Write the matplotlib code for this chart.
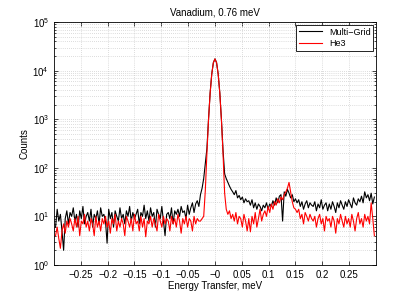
#!/usr/bin/env python3
"""Vanadium elastic line, 0.76 meV: Multi-Grid vs He3 detector counts."""

import numpy as np
import matplotlib
matplotlib.use('Agg')
import matplotlib.pyplot as plt
from matplotlib.ticker import FuncFormatter, LogLocator, LogFormatterMathtext

# energy bins (meV), 0.003 meV apart
energy = np.round(np.linspace(-0.297, 0.297, 199), 3)

# counts, 10 bins per row
multigrid = [
    6, 14, 8, 11, 5, 2, 9, 13, 7, 12,
    10, 15, 8, 11, 6, 13, 9, 16, 7, 10,
    12, 8, 14, 6, 11, 9, 13, 7, 15, 10,
    11, 8, 2.8, 14, 9, 12, 6, 13, 10, 8,
    15, 9, 11, 7, 13, 10, 16, 8, 12, 9,
    11, 14, 7, 12, 10, 17, 9, 13, 8, 15,
    10, 12, 6, 14, 11, 9, 16, 8, 4, 11,
    12, 9, 15, 7, 13, 11, 14, 10, 16, 12,
    13, 9, 17, 11, 15, 19, 12, 18, 21, 16,
    28, 38, 60, 120, 250, 1000, 3500, 8500, 14600, 17500,
    14600, 8500, 3500, 1000, 230, 75, 60, 50, 42, 36,
    32, 28, 34, 24, 27, 22, 25, 19, 23, 20,
    21, 17, 22, 15, 19, 14, 18, 16, 13, 17,
    15, 19, 14, 18, 16, 21, 17, 24, 19, 26,
    28, 8, 32, 26, 36, 30, 24, 28, 20, 23,
    19, 22, 16, 20, 14, 18, 21, 15, 19, 17,
    16, 20, 13, 18, 15, 22, 14, 17, 19, 13,
    18, 14, 20, 16, 12, 19, 15, 21, 17, 14,
    20, 16, 22, 18, 15, 24, 19, 17, 23, 20,
    26, 19, 32, 24, 28, 21, 30, 18, 25,
]

he3 = [
    4, 6, 3.5, 2.2, 5, 7, 4.5, 8, 6, 9,
    7, 5, 9, 6, 10, 4, 8, 7, 11, 6,
    8, 5, 9, 7, 4, 10, 6, 8, 5, 9,
    7, 10, 6, 8, 4.5, 9, 7, 11, 5, 8,
    6, 9, 7, 4, 10, 8, 6, 9, 5, 11,
    7, 8, 5, 10, 6, 9, 3.8, 8, 7, 10,
    6, 9, 7, 5, 11, 8, 6, 10, 7, 9,
    8, 5, 10, 7, 9, 6, 11, 8, 4.5, 9,
    7, 10, 6, 9, 8, 5, 10, 7, 9, 8,
    8, 9, 10, 34, 200, 980, 3460, 8500, 14600, 17500,
    14600, 8500, 3460, 980, 200, 30, 14, 11, 13, 9,
    11, 8, 12, 7, 10, 9, 6, 11, 8, 5,
    9, 4.8, 10, 7, 12, 6, 9, 14, 8, 11,
    13, 10, 16, 12, 18, 14, 20, 17, 23, 19,
    25, 22, 28, 32, 38, 50, 32, 20, 15, 14,
    12, 14, 9, 11, 7, 12, 10, 8, 11, 9,
    8, 10, 6, 9, 11, 7, 9, 5, 10, 8,
    9, 6, 10, 8, 4.5, 9, 7, 11, 8, 6,
    10, 7, 9, 6, 11, 8, 5, 9, 12, 7,
    9, 6, 11, 8, 10, 7, 19, 9, 4,
]

plt.rcParams['font.family'] = ['Liberation Sans', 'DejaVu Sans']
plt.rcParams['mathtext.fontset'] = 'custom'
plt.rcParams['mathtext.rm'] = 'Liberation Sans'

fig = plt.figure(figsize=(4.15, 2.99), dpi=100)
ax = fig.add_axes([0.130, 0.114, 0.776, 0.812])

ax.plot(energy, multigrid, color='black', linewidth=0.8, label='Multi\u2212Grid')
ax.plot(energy, he3, color='red', linewidth=0.8, label='He3')

ax.set_yscale('log')
ax.set_xlim(-0.3, 0.3)
ax.set_ylim(1, 1e5)
ax.set_xticks(np.round(np.arange(-0.25, 0.26, 0.05), 2))
ax.xaxis.set_major_formatter(FuncFormatter(lambda v, p: ('%g' % v).replace('-', '\u2212')))
ax.yaxis.set_major_locator(LogLocator(base=10, numticks=10))
ax.yaxis.set_minor_locator(LogLocator(base=10, subs=np.arange(2, 10), numticks=20))
ax.yaxis.set_major_formatter(LogFormatterMathtext())

ax.tick_params(which='both', direction='in', top=True, right=True, labelsize=7, width=0.5)
ax.tick_params(which='major', length=3)
ax.tick_params(which='minor', length=1.5)
for s in ax.spines.values():
    s.set_linewidth(0.6)

ax.grid(True, which='major', color='#bdbdbd', linestyle=(0, (1, 2)), linewidth=0.5)
ax.grid(True, which='minor', axis='y', color='#bdbdbd', linestyle=(0, (1, 2)), linewidth=0.5)

ax.set_xlabel('Energy Transfer, meV', fontsize=7, labelpad=1)
ax.set_ylabel('Counts', fontsize=7, labelpad=2)
ax.set_title('Vanadium, 0.76 meV', fontsize=7, pad=5)

leg = ax.legend(loc='upper right', fontsize=6.5, fancybox=False, framealpha=1,
                edgecolor='black', borderpad=0.3, handlelength=2.5, labelspacing=0.3,
                borderaxespad=0.3)
leg.get_frame().set_linewidth(0.6)

fig.savefig('out.png', dpi=100)
